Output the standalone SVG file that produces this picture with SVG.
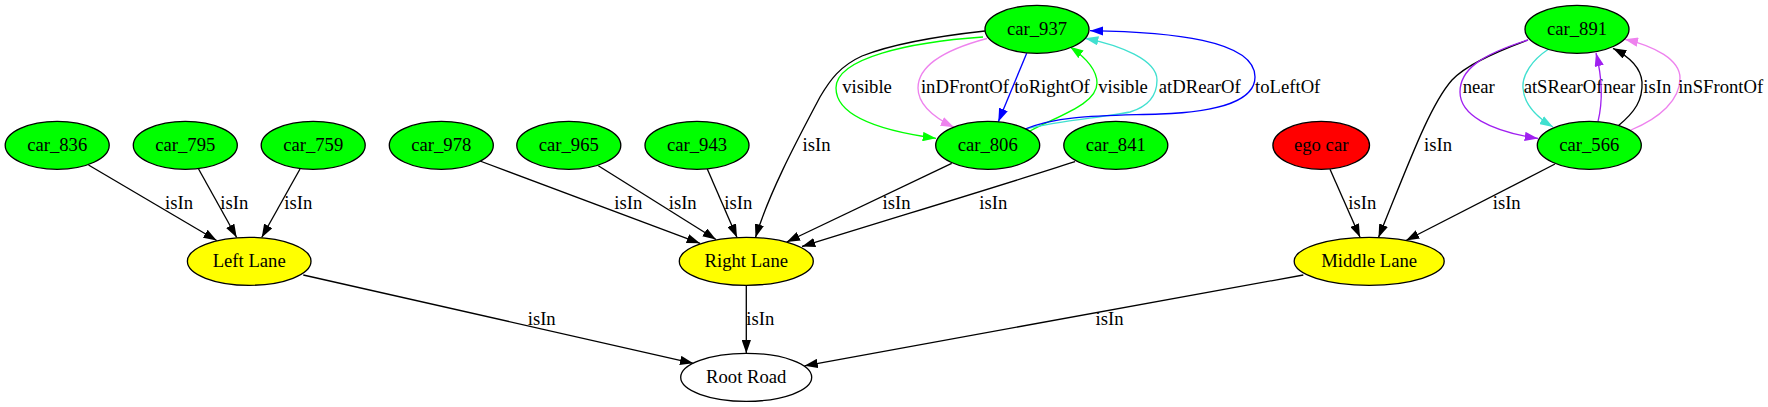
<svg xmlns="http://www.w3.org/2000/svg" width="1768" height="407" viewBox="0 0 1768 407">
<style>
text{font-family:"Liberation Serif","Times New Roman",serif;font-size:18.67px;text-anchor:middle;fill:#000}
.n ellipse{stroke:#000;stroke-width:1.33}
.e path{fill:none;stroke-width:1.33}
.k{stroke:#000}.b{stroke:#0000ff}.g{stroke:#00ff00}.v{stroke:#ee82ee}.t{stroke:#40e0d0}.p{stroke:#a020f0}
.car{fill:#00ff00}.lane{fill:#ffff00}
</style>
<defs>
<marker id="mk" viewBox="0 0 10 7" refX="10" refY="3.5" markerWidth="13.33" markerHeight="9.33" markerUnits="userSpaceOnUse" orient="auto"><path d="M0,0L10,3.5L0,7z" fill="#000"/></marker>
<marker id="mb" viewBox="0 0 10 7" refX="10" refY="3.5" markerWidth="13.33" markerHeight="9.33" markerUnits="userSpaceOnUse" orient="auto"><path d="M0,0L10,3.5L0,7z" fill="#0000ff"/></marker>
<marker id="mg" viewBox="0 0 10 7" refX="10" refY="3.5" markerWidth="13.33" markerHeight="9.33" markerUnits="userSpaceOnUse" orient="auto"><path d="M0,0L10,3.5L0,7z" fill="#00ff00"/></marker>
<marker id="mv" viewBox="0 0 10 7" refX="10" refY="3.5" markerWidth="13.33" markerHeight="9.33" markerUnits="userSpaceOnUse" orient="auto"><path d="M0,0L10,3.5L0,7z" fill="#ee82ee"/></marker>
<marker id="mt" viewBox="0 0 10 7" refX="10" refY="3.5" markerWidth="13.33" markerHeight="9.33" markerUnits="userSpaceOnUse" orient="auto"><path d="M0,0L10,3.5L0,7z" fill="#40e0d0"/></marker>
<marker id="mp" viewBox="0 0 10 7" refX="10" refY="3.5" markerWidth="13.33" markerHeight="9.33" markerUnits="userSpaceOnUse" orient="auto"><path d="M0,0L10,3.5L0,7z" fill="#a020f0"/></marker>
</defs>
<rect width="1768" height="407" fill="#fff"/>
<g id="edges" class="e">
<path class="k" marker-end="url(#mk)" d="M88.5,165 L216.7,240.5"/>
<text x="179" y="209">isIn</text>
<path class="k" marker-end="url(#mk)" d="M198.3,168.5 L236.7,237.5"/>
<text x="234.3" y="209">isIn</text>
<path class="k" marker-end="url(#mk)" d="M300,169 L261.7,237.5"/>
<text x="298.3" y="209">isIn</text>
<path class="k" marker-end="url(#mk)" d="M303.3,275 L693.3,363.3"/>
<text x="541.7" y="325">isIn</text>
<path class="k" marker-end="url(#mk)" d="M480,161 L700,243.3"/>
<text x="628.3" y="209">isIn</text>
<path class="k" marker-end="url(#mk)" d="M598.3,165.7 L716,239.5"/>
<text x="682.7" y="209">isIn</text>
<path class="k" marker-end="url(#mk)" d="M707.3,169 L737,237.5"/>
<text x="738.3" y="209">isIn</text>
<path class="k" marker-end="url(#mk)" d="M985,31 C930,37 890,45 862,56 C840,66 830,80 820,97 C800,135 770,190 755.5,237.5"/>
<text x="816.5" y="151">isIn</text>
<path class="k" marker-end="url(#mk)" d="M951.7,163.3 L786.7,242"/>
<text x="896.5" y="209">isIn</text>
<path class="k" marker-end="url(#mk)" d="M1075,161.7 C1000,186 900,216 802,246.5"/>
<text x="993.3" y="209">isIn</text>
<path class="k" marker-end="url(#mk)" d="M1330,169.3 L1360,237.3"/>
<text x="1362.3" y="209">isIn</text>
<path class="k" marker-end="url(#mk)" d="M1528,40 C1490,54 1465,66 1452,80 C1430,105 1410,160 1378.5,237.5"/>
<text x="1438" y="151">isIn</text>
<path class="k" marker-end="url(#mk)" d="M1555,164 L1406,240.5"/>
<text x="1506.7" y="209">isIn</text>
<path class="k" marker-end="url(#mk)" d="M1303.3,275 L804.5,365.8"/>
<text x="1109.5" y="325">isIn</text>
<path class="k" marker-end="url(#mk)" d="M746.3,285.3 L746.3,353.3"/>
<text x="760.3" y="325">isIn</text>
<path class="g" marker-end="url(#mg)" d="M983,37 C910,42 836,58 836,88 C836,115 875,130 936,138.3"/>
<text x="867" y="93">visible</text>
<path class="v" marker-end="url(#mv)" d="M987,38.5 C955,47 918,62 918,88 C918,105 935,118 954,127.3"/>
<text x="965" y="93">inDFrontOf</text>
<path class="b" marker-end="url(#mb)" d="M1026.7,53.3 L998.3,121.7"/>
<text x="1052" y="93">toRightOf</text>
<path class="g" marker-end="url(#mg)" d="M1030,131 C1060,115 1097,104 1097,83 C1097,70 1085,57 1070,46.7"/>
<text x="1123" y="93">visible</text>
<path class="t" marker-end="url(#mt)" d="M1026,129 C1060,120 1100,118 1130,112 C1150,106 1157,95 1157,80 C1157,60 1120,45 1085,38.3"/>
<text x="1199.7" y="93">atDRearOf</text>
<path class="b" marker-end="url(#mb)" d="M1025,129 C1060,115 1100,116 1160,114 C1220,112 1255,100 1255,77 C1255,40 1170,32 1090,30.7"/>
<text x="1287.7" y="93">toLeftOf</text>
<path class="p" marker-end="url(#mp)" d="M1528,40 C1480,55 1460,70 1460,92 C1460,115 1490,131 1538,138.5"/>
<text x="1478.7" y="93">near</text>
<path class="t" marker-end="url(#mt)" d="M1548,49.5 C1532,60 1522,75 1523,88 C1524,105 1538,118 1553,127"/>
<text x="1563" y="93">atSRearOf</text>
<path class="p" marker-end="url(#mp)" d="M1598,121.5 C1602,105 1604,85 1596,53"/>
<text x="1619.3" y="93">near</text>
<path class="k" marker-end="url(#mk)" d="M1618,126 C1635,112 1643,100 1642,82 C1641,68 1630,57 1613,48.3"/>
<text x="1657.3" y="93">isIn</text>
<path class="v" marker-end="url(#mv)" d="M1631,130 C1660,118 1680,100 1680,78 C1680,60 1655,46 1624.7,39.3"/>
<text x="1720.7" y="93">inSFrontOf</text>
</g>
<g id="car_937" class="n"><ellipse class="car" cx="1037" cy="29.3" rx="52" ry="24"/><text x="1037" y="35.3">car_937</text></g>
<g id="car_891" class="n"><ellipse class="car" cx="1577" cy="29.3" rx="52" ry="24"/><text x="1577" y="35.3">car_891</text></g>
<g id="car_836" class="n"><ellipse class="car" cx="57.2" cy="145.3" rx="52" ry="24"/><text x="57.2" y="151.3">car_836</text></g>
<g id="car_795" class="n"><ellipse class="car" cx="185.3" cy="145.3" rx="52" ry="24"/><text x="185.3" y="151.3">car_795</text></g>
<g id="car_759" class="n"><ellipse class="car" cx="313.2" cy="145.3" rx="52" ry="24"/><text x="313.2" y="151.3">car_759</text></g>
<g id="car_978" class="n"><ellipse class="car" cx="441.3" cy="145.3" rx="52" ry="24"/><text x="441.3" y="151.3">car_978</text></g>
<g id="car_965" class="n"><ellipse class="car" cx="568.8" cy="145.3" rx="52" ry="24"/><text x="568.8" y="151.3">car_965</text></g>
<g id="car_943" class="n"><ellipse class="car" cx="697" cy="145.3" rx="52" ry="24"/><text x="697" y="151.3">car_943</text></g>
<g id="car_806" class="n"><ellipse class="car" cx="987.7" cy="145.3" rx="52" ry="24"/><text x="987.7" y="151.3">car_806</text></g>
<g id="car_841" class="n"><ellipse class="car" cx="1115.8" cy="145.3" rx="52" ry="24"/><text x="1115.8" y="151.3">car_841</text></g>
<g id="ego_car" class="n"><ellipse fill="#ff0000" cx="1321.2" cy="145.3" rx="48.3" ry="24"/><text x="1321.2" y="151.3">ego car</text></g>
<g id="car_566" class="n"><ellipse class="car" cx="1589.3" cy="145.3" rx="52" ry="24"/><text x="1589.3" y="151.3">car_566</text></g>
<g id="left_lane" class="n"><ellipse class="lane" cx="249.2" cy="261.3" rx="61.8" ry="24"/><text x="249.2" y="267.3">Left Lane</text></g>
<g id="right_lane" class="n"><ellipse class="lane" cx="746.3" cy="261.3" rx="67" ry="24"/><text x="746.3" y="267.3">Right Lane</text></g>
<g id="middle_lane" class="n"><ellipse class="lane" cx="1369.2" cy="261.3" rx="75" ry="24"/><text x="1369.2" y="267.3">Middle Lane</text></g>
<g id="root_road" class="n"><ellipse fill="none" cx="746.2" cy="377.3" rx="65.5" ry="24"/><text x="746.2" y="383.3">Root Road</text></g>
</svg>
